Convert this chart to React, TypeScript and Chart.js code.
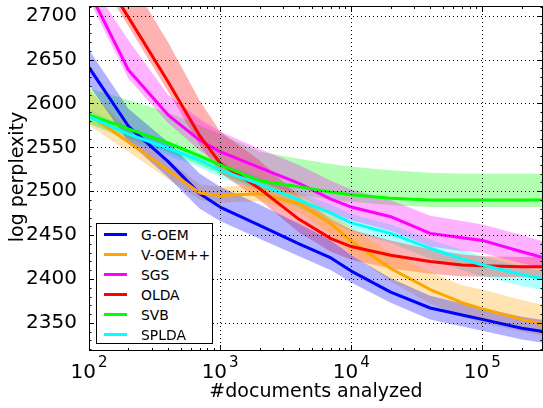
import React, { useEffect, useRef } from "react";
import { Chart, registerables } from "chart.js";

Chart.register(...registerables);

// number of documents seen (x, log scale)
const DOCS = [100, 200, 400, 700, 1000, 2000, 4000, 7000, 10000, 20000, 40000, 70000, 100000, 200000, 300000];

const G_OEM    = [2641, 2574, 2534, 2497, 2482, 2461, 2440, 2424, 2409, 2385, 2367, 2359, 2354, 2344, 2340];
const G_OEM_LO = [2621, 2556, 2516, 2480, 2466, 2446, 2426, 2410, 2396, 2373, 2354, 2346, 2341, 2331, 2327];
const G_OEM_HI = [2661, 2594, 2556, 2520, 2505, 2485, 2463, 2444, 2427, 2401, 2381, 2372, 2367, 2357, 2353];

const V_OEM    = [2587, 2556, 2524, 2498, 2495, 2497, 2486, 2463, 2443, 2412, 2388, 2373, 2366, 2354, 2348];
const V_OEM_LO = [2575, 2545, 2514, 2490, 2487, 2489, 2476, 2451, 2429, 2397, 2372, 2357, 2350, 2340, 2335];
const V_OEM_HI = [2615, 2570, 2536, 2508, 2505, 2507, 2498, 2477, 2458, 2430, 2408, 2393, 2388, 2376, 2370];

const SGS    = [2728, 2638, 2587, 2558, 2545, 2527, 2509, 2491, 2482, 2471, 2452, 2447, 2444, 2431, 2424];
const SGS_LO = [2718, 2628, 2578, 2546, 2532, 2512, 2494, 2476, 2467, 2455, 2437, 2432, 2430, 2418, 2412];
const SGS_HI = [2740, 2672, 2610, 2582, 2568, 2548, 2530, 2512, 2502, 2490, 2472, 2466, 2462, 2450, 2442];

const OLDA    = [2770, 2698, 2625, 2563, 2532, 2503, 2468, 2446, 2437, 2427, 2420, 2416, 2415, 2414, 2414];
const OLDA_LO = [2760, 2688, 2614, 2552, 2521, 2490, 2453, 2431, 2422, 2412, 2406, 2403, 2403, 2402, 2402];
const OLDA_HI = [2815, 2744, 2670, 2603, 2568, 2535, 2494, 2468, 2456, 2444, 2434, 2428, 2426, 2425, 2425];

const SVB    = [2587, 2571, 2555, 2540, 2530, 2512, 2505, 2499, 2496, 2492, 2490, 2490, 2490, 2490, 2490];
const SVB_LO = [2577, 2561, 2545, 2530, 2520, 2502, 2496, 2490, 2488, 2484, 2482, 2482, 2482, 2482, 2482];
const SVB_HI = [2617, 2604, 2590, 2575, 2565, 2545, 2537, 2531, 2528, 2524, 2521, 2520, 2520, 2520, 2520];

const SPLDA    = [2585, 2565, 2549, 2535, 2524, 2508, 2490, 2475, 2464, 2452, 2435, 2423, 2416, 2405, 2400];
const SPLDA_LO = [2577, 2557, 2541, 2527, 2516, 2500, 2481, 2465, 2454, 2441, 2423, 2410, 2403, 2392, 2387];
const SPLDA_HI = [2593, 2573, 2557, 2543, 2532, 2516, 2499, 2485, 2474, 2462, 2445, 2433, 2426, 2414, 2408];

const X_MIN = 100;
const X_MAX = 290000;
const Y_MIN = 2318;
const Y_MAX = 2711;
const X_DECADES = [100, 1000, 10000, 100000];
const X_EXPONENTS = ["2", "3", "4", "5"];
const Y_TICKS = [2350, 2400, 2450, 2500, 2550, 2600, 2650, 2700];

const FONT = "DejaVu Sans";

interface Series {
  label: string;
  color: string;
  band: string;
  mean: number[];
  lo: number[];
  hi: number[];
}

const SERIES: Series[] = [
  { label: "G-OEM",    color: "#0000ff", band: "rgba(0,0,255,0.3)",   mean: G_OEM, lo: G_OEM_LO, hi: G_OEM_HI },
  { label: "V-OEM++",  color: "#ffa500", band: "rgba(255,165,0,0.3)", mean: V_OEM, lo: V_OEM_LO, hi: V_OEM_HI },
  { label: "SGS",      color: "#ff00ff", band: "rgba(255,0,255,0.3)", mean: SGS,   lo: SGS_LO,   hi: SGS_HI },
  { label: "OLDA",     color: "#ff0000", band: "rgba(255,0,0,0.3)",   mean: OLDA,  lo: OLDA_LO,  hi: OLDA_HI },
  { label: "SVB",      color: "#00ff00", band: "rgba(0,255,0,0.3)",   mean: SVB,   lo: SVB_LO,   hi: SVB_HI },
  { label: "SPLDA",    color: "#00ffff", band: "rgba(0,255,255,0.3)", mean: SPLDA, lo: SPLDA_LO, hi: SPLDA_HI },
];

const pts = (ys: number[]) => DOCS.map((x, i) => ({ x, y: ys[i] }));

// grid, inward ticks, frame, x tick labels and axis titles (matplotlib look)
const axesDecor = {
  id: "axesDecor",
  afterDatasetsDraw(chart: Chart) {
    const { ctx, chartArea: a } = chart;
    const x = chart.scales.x;
    const y = chart.scales.y;
    ctx.save();

    ctx.strokeStyle = "#000";
    ctx.lineWidth = 1;
    ctx.setLineDash([1, 3]);
    ctx.beginPath();
    X_DECADES.slice(1).forEach((v) => {
      const px = Math.round(x.getPixelForValue(v)) + 0.5;
      ctx.moveTo(px, a.top);
      ctx.lineTo(px, a.bottom);
    });
    Y_TICKS.forEach((v) => {
      const py = Math.round(y.getPixelForValue(v)) + 0.5;
      ctx.moveTo(a.left, py);
      ctx.lineTo(a.right, py);
    });
    ctx.stroke();
    ctx.setLineDash([]);

    ctx.beginPath();
    const xTick = (v: number, len: number) => {
      const px = Math.round(x.getPixelForValue(v)) + 0.5;
      ctx.moveTo(px, a.bottom);
      ctx.lineTo(px, a.bottom - len);
      ctx.moveTo(px, a.top);
      ctx.lineTo(px, a.top + len);
    };
    const yTick = (v: number, len: number) => {
      const py = Math.round(y.getPixelForValue(v)) + 0.5;
      ctx.moveTo(a.left, py);
      ctx.lineTo(a.left + len, py);
      ctx.moveTo(a.right, py);
      ctx.lineTo(a.right - len, py);
    };
    X_DECADES.forEach((d) => {
      xTick(d, 6);
      for (let m = 2; m <= 9; m++) if (d * m <= X_MAX) xTick(d * m, 3);
    });
    for (let v = 2320; v <= Y_MAX; v += 10) yTick(v, v % 50 === 0 ? 5 : 2.5);
    ctx.stroke();

    ctx.strokeRect(a.left + 0.5, a.top + 0.5, a.right - a.left - 1, a.bottom - a.top - 1);

    ctx.fillStyle = "#000";
    ctx.textBaseline = "alphabetic";
    ctx.textAlign = "left";
    X_DECADES.forEach((d, i) => {
      const px = x.getPixelForValue(d);
      ctx.font = `20px "${FONT}"`;
      const wBase = ctx.measureText("10").width;
      ctx.font = `15px "${FONT}"`;
      const wExp = ctx.measureText(X_EXPONENTS[i]).width;
      const start = px - (wBase + 2 + wExp) / 2;
      ctx.font = `20px "${FONT}"`;
      ctx.fillText("10", start, 378);
      ctx.font = `15px "${FONT}"`;
      ctx.fillText(X_EXPONENTS[i], start + wBase + 2, 367);
    });

    ctx.font = `19px "${FONT}"`;
    ctx.textAlign = "center";
    ctx.fillText("#documents analyzed", (a.left + a.right) / 2, 397);

    ctx.translate(23, 177);
    ctx.rotate(-Math.PI / 2);
    ctx.fillText("log perplexity", 0, 0);

    ctx.restore();
  },
};

const Legend: React.FC = () => (
  <div
    style={{
      position: "absolute",
      left: 96,
      top: 223,
      width: 117,
      height: 121,
      boxSizing: "border-box",
      border: "1px solid #000",
      background: "#fff",
      fontFamily: FONT,
      fontSize: 13.9,
      color: "#000",
    }}
  >
    {SERIES.map((s, i) => (
      <div key={s.label} style={{ position: "absolute", left: 0, top: 0.5 + i * 20, height: 20, width: "100%" }}>
        <div style={{ position: "absolute", left: 6.5, top: 8.5, width: 23, height: 3, background: s.color }} />
        <div style={{ position: "absolute", left: 44, top: 0, height: 20, lineHeight: "20px", whiteSpace: "nowrap" }}>
          {s.label}
        </div>
      </div>
    ))}
  </div>
);

const App: React.FC = () => {
  const canvasRef = useRef<HTMLCanvasElement>(null);
  const chartRef = useRef<Chart | null>(null);

  useEffect(() => {
    if (!canvasRef.current) return;
    if (chartRef.current) chartRef.current.destroy();

    const bands = SERIES.flatMap((s) => [
      { data: pts(s.hi), borderColor: "rgba(0,0,0,0)", borderWidth: 0, pointRadius: 0, fill: false, order: 20 },
      { data: pts(s.lo), borderColor: "rgba(0,0,0,0)", borderWidth: 0, pointRadius: 0, fill: "-1", backgroundColor: s.band, order: 20 },
    ]);
    const lines = SERIES.map((s, i) => ({
      label: s.label,
      data: pts(s.mean),
      borderColor: s.color,
      borderWidth: 3,
      pointRadius: 0,
      fill: false,
      tension: 0,
      borderJoinStyle: "round" as const,
      order: SERIES.length - i,
    }));

    chartRef.current = new Chart(canvasRef.current, {
      type: "line",
      data: { datasets: [...bands, ...lines] as any },
      options: {
        animation: false,
        responsive: true,
        maintainAspectRatio: false,
        layout: { padding: { top: 6, right: 0, bottom: 0, left: 0 } },
        plugins: {
          legend: { display: false },
          tooltip: { enabled: false },
          filler: { drawTime: "beforeDatasetsDraw" },
        } as any,
        scales: {
          x: {
            type: "logarithmic",
            min: X_MIN,
            max: X_MAX,
            ticks: { display: false },
            grid: { display: false },
            border: { display: false },
            afterFit: (s: any) => {
              s.height = 57;
              s.paddingLeft = 0;
              s.paddingRight = 0;
            },
          },
          y: {
            type: "linear",
            min: Y_MIN,
            max: Y_MAX,
            afterBuildTicks: (s: any) => {
              s.ticks = Y_TICKS.map((v) => ({ value: v }));
            },
            ticks: {
              autoSkip: false,
              padding: 4,
              color: "#000",
              font: { family: FONT, size: 20 },
              callback: (v: any) => String(v),
            },
            grid: { display: false },
            border: { display: false },
            afterFit: (s: any) => {
              s.width = 89;
              s.paddingTop = 0;
              s.paddingBottom = 0;
            },
          },
        },
      },
      plugins: [axesDecor],
    });

    return () => chartRef.current?.destroy();
  }, []);

  return (
    <div style={{ position: "fixed", left: 0, top: 0, width: 543, height: 408, background: "#fff" }}>
      <canvas ref={canvasRef} />
      <Legend />
    </div>
  );
};

export default App;
